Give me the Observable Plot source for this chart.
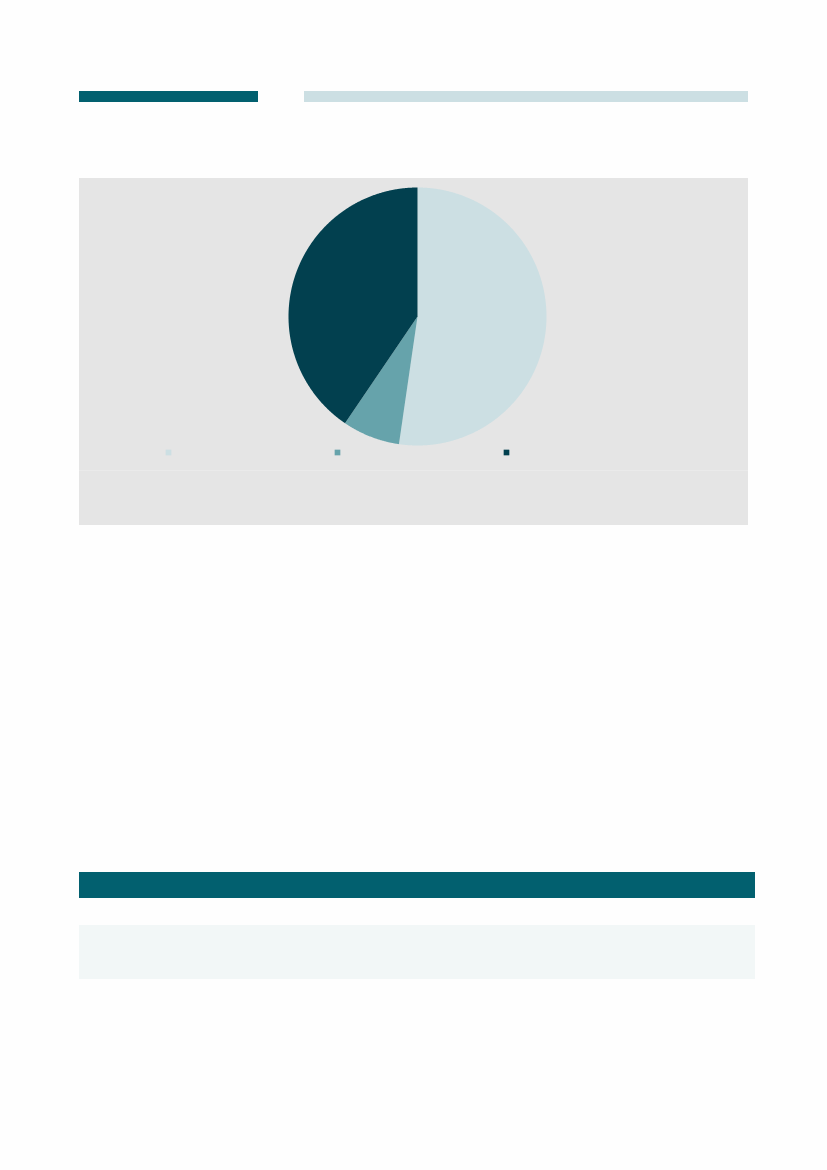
<!DOCTYPE html>
<html>
<head>
<meta charset="utf-8">
<script src="https://cdn.jsdelivr.net/npm/d3@7"></script>
<script src="https://cdn.jsdelivr.net/npm/@observablehq/plot@0.6"></script>
<style>
  html, body { margin: 0; padding: 0; background: #FEFEFE; }
  body { width: 827px; height: 1170px; position: relative; overflow: hidden; font-family: "Open Sans", sans-serif; }
  .blk { position: absolute; }
  #pie { position: absolute; left: 286px; top: 185px; }
  #legend { position: absolute; left: 79px; top: 446px; }
</style>
</head>
<body>
<div class="blk" style="left:79px;top:91px;width:179px;height:11px;background:#02606F"></div>
<div class="blk" style="left:304px;top:91px;width:444px;height:11px;background:#CCDFE3"></div>
<div class="blk" style="left:79px;top:178px;width:669px;height:347px;background:#E5E5E5"></div>
<div class="blk" style="left:79px;top:470px;width:669px;height:1px;background:#EAEAEA"></div>
<div class="blk" style="left:79px;top:872px;width:676px;height:26px;background:#02606F"></div>
<div class="blk" style="left:79px;top:925px;width:676px;height:54px;background:#F2F7F7"></div>
<div id="pie"></div>
<div id="legend"></div>
<script>
const categories = ["Catégorie A", "Catégorie B", "Catégorie C"];
const values = [52.3, 7.2, 40.5];
const colors = ["#CCDFE3", "#66A3AB", "#02404F"];

// Build slice outlines from the pie layout (angles clockwise from 12 o'clock)
const arcs = d3.pie().sort(null)(values);
const outline = [];
arcs.forEach((a, i) => {
  const cat = categories[i];
  outline.push({cat, x: 0, y: 0});
  const n = Math.max(2, Math.ceil((a.endAngle - a.startAngle) / 0.005));
  for (let k = 0; k <= n; k++) {
    const t = a.startAngle + (a.endAngle - a.startAngle) * k / n;
    outline.push({cat, x: Math.sin(t), y: Math.cos(t)});
  }
  outline.push({cat, x: 0, y: 0});
});

const colorScale = {domain: categories, range: colors};

const pie = Plot.plot({
  width: 262,
  height: 262,
  margin: 2,
  x: {domain: [-1, 1], axis: null},
  y: {domain: [-1, 1], axis: null},
  color: colorScale,
  style: {background: "transparent", overflow: "visible"},
  marks: [
    Plot.line(outline, {x: "x", y: "y", z: "cat", fill: "cat", stroke: "none", curve: "linear"})
  ]
});
document.getElementById("pie").appendChild(pie);

const legend = Plot.plot({
  width: 669,
  height: 12,
  margin: 0,
  x: {type: "point", domain: categories, range: [88, 427], padding: 0, axis: null},
  color: colorScale,
  style: {background: "transparent", overflow: "visible"},
  marks: [
    Plot.dot(categories, {x: d => d, frameAnchor: "middle", fill: d => d, symbol: "square", r: 3.2})
  ]
});
document.getElementById("legend").appendChild(legend);
</script>
</body>
</html>
